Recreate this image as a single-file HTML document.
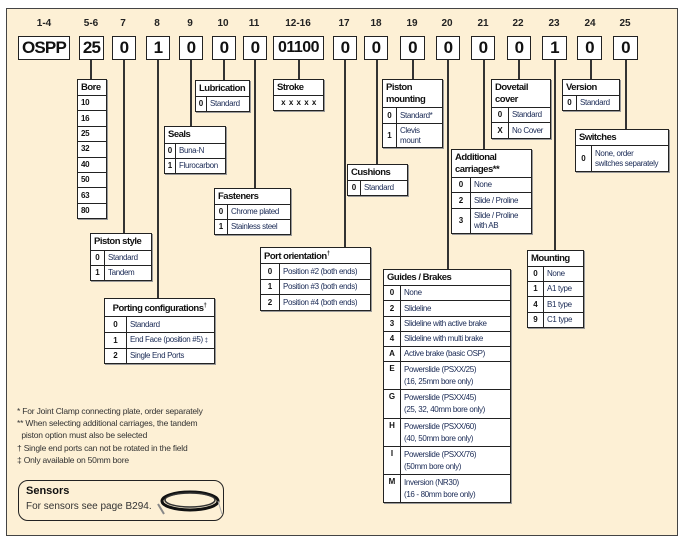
<!DOCTYPE html>
<html><head><meta charset="utf-8"><style>
*{margin:0;padding:0;box-sizing:border-box}
body{width:685px;height:552px;background:#fff;position:relative;overflow:hidden;font-family:"Liberation Sans",sans-serif}
#frame{position:absolute;left:6px;top:8px;width:672px;height:528px;background:#fdf0d5;border:1.5px solid #444}
.n{position:absolute;top:18px;font:bold 10px "Liberation Sans",sans-serif;color:#222;text-align:center;width:40px}
.b{position:absolute;top:36px;height:24px;border:1.5px solid #222;background:#fff;font:bold 17px "Liberation Sans",sans-serif;text-align:center;line-height:21px;color:#111;letter-spacing:-0.8px;white-space:nowrap}
.v{position:absolute;width:1.5px;background:#333}
table{position:absolute;border-collapse:collapse;background:#fff;box-shadow:1px 1px 0 #999;font-size:8px;color:#1a2a55;letter-spacing:-0.35px;table-layout:fixed}
td{border:1.5px solid #222;padding:0 2px 0 3px;vertical-align:middle;line-height:10px;white-space:nowrap;overflow:hidden}
td.k{text-align:center;font-weight:bold;color:#111;padding:0;letter-spacing:0}
th{border:1.5px solid #222;text-align:left;padding:0 3px;font-size:9.5px;color:#111;font-weight:bold;line-height:12px;letter-spacing:-0.5px;white-space:nowrap}
.ft{position:absolute;left:17px;font:8.5px "Liberation Sans",sans-serif;color:#333;letter-spacing:-0.2px}
</style></head><body>
<div id="frame"></div>

<div class="n" style="left:24px">1-4</div><div class="b" style="left:18px;width:52px">OSPP</div>
<div class="n" style="left:71px">5-6</div><div class="b" style="left:79px;width:25px">25</div>
<div class="n" style="left:103px">7</div><div class="b" style="left:112px;width:24px">0</div>
<div class="n" style="left:137px">8</div><div class="b" style="left:146px;width:24px">1</div>
<div class="n" style="left:170px">9</div><div class="b" style="left:179px;width:24px">0</div>
<div class="n" style="left:203px">10</div><div class="b" style="left:212px;width:24px">0</div>
<div class="n" style="left:234px">11</div><div class="b" style="left:243px;width:24px">0</div>
<div class="n" style="left:278px">12-16</div><div class="b" style="left:273px;width:51px;font-size:16px;letter-spacing:-0.5px">01100</div>
<div class="n" style="left:324px">17</div><div class="b" style="left:333px;width:24px">0</div>
<div class="n" style="left:356px">18</div><div class="b" style="left:364px;width:24px">0</div>
<div class="n" style="left:392px">19</div><div class="b" style="left:400px;width:25px">0</div>
<div class="n" style="left:427px">20</div><div class="b" style="left:436px;width:24px">0</div>
<div class="n" style="left:463px">21</div><div class="b" style="left:471px;width:24px">0</div>
<div class="n" style="left:498px">22</div><div class="b" style="left:507px;width:24px">0</div>
<div class="n" style="left:534px">23</div><div class="b" style="left:542px;width:25px">1</div>
<div class="n" style="left:570px">24</div><div class="b" style="left:577px;width:25px">0</div>
<div class="n" style="left:605px">25</div><div class="b" style="left:613px;width:25px">0</div>

<div class="v" style="left:90px;top:60px;height:19px"></div>
<div class="v" style="left:123px;top:60px;height:173px"></div>
<div class="v" style="left:157px;top:60px;height:238px"></div>
<div class="v" style="left:190px;top:60px;height:66px"></div>
<div class="v" style="left:223px;top:60px;height:20px"></div>
<div class="v" style="left:254px;top:60px;height:128px"></div>
<div class="v" style="left:298px;top:60px;height:19px"></div>
<div class="v" style="left:344px;top:60px;height:187px"></div>
<div class="v" style="left:376px;top:60px;height:104px"></div>
<div class="v" style="left:412px;top:60px;height:19px"></div>
<div class="v" style="left:447px;top:60px;height:209px"></div>
<div class="v" style="left:483px;top:60px;height:89px"></div>
<div class="v" style="left:518px;top:60px;height:19px"></div>
<div class="v" style="left:554px;top:60px;height:190px"></div>
<div class="v" style="left:590px;top:60px;height:19px"></div>
<div class="v" style="left:625px;top:60px;height:69px"></div>

<table style="left:77px;top:79px;width:30px"><tr><th style="height:16px">Bore</th></tr>
<tr><td style="height:15.4px;font-weight:bold;color:#111">10</td></tr><tr><td style="height:15.4px;font-weight:bold;color:#111">16</td></tr><tr><td style="height:15.4px;font-weight:bold;color:#111">25</td></tr><tr><td style="height:15.4px;font-weight:bold;color:#111">32</td></tr><tr><td style="height:15.4px;font-weight:bold;color:#111">40</td></tr><tr><td style="height:15.4px;font-weight:bold;color:#111">50</td></tr><tr><td style="height:15.4px;font-weight:bold;color:#111">63</td></tr><tr><td style="height:15.4px;font-weight:bold;color:#111">80</td></tr></table>

<table style="left:195px;top:80px;width:55px"><colgroup><col style="width:11px"><col></colgroup><tr><th colspan="2" style="height:16px">Lubrication</th></tr><tr><td class="k" style="height:15px">0</td><td>Standard</td></tr></table>

<table style="left:273px;top:79px;width:51px"><tr><th style="height:16px">Stroke</th></tr><tr><td style="height:15px;text-align:center;font-weight:bold;color:#111;letter-spacing:0.5px">x x x x x</td></tr></table>

<table style="left:164px;top:126px;width:62px"><colgroup><col style="width:11px"><col></colgroup><tr><th colspan="2" style="height:17px">Seals</th></tr><tr><td class="k" style="height:15px">0</td><td>Buna-N</td></tr><tr><td class="k" style="height:15px">1</td><td>Flurocarbon</td></tr></table>

<table style="left:214px;top:188px;width:77px"><colgroup><col style="width:13px"><col></colgroup><tr><th colspan="2" style="height:16px">Fasteners</th></tr><tr><td class="k" style="height:15px">0</td><td>Chrome plated</td></tr><tr><td class="k" style="height:15px">1</td><td>Stainless steel</td></tr></table>

<table style="left:90px;top:233px;width:62px"><colgroup><col style="width:14px"><col></colgroup><tr><th colspan="2" style="height:17px">Piston style</th></tr><tr><td class="k" style="height:15px">0</td><td>Standard</td></tr><tr><td class="k" style="height:15px">1</td><td>Tandem</td></tr></table>

<table style="left:104px;top:298px;width:111px"><colgroup><col style="width:22px"><col></colgroup><tr><th colspan="2" style="height:18px;text-align:center">Porting configurations<sup style="font-size:6px">†</sup></th></tr><tr><td class="k" style="height:16px">0</td><td>Standard</td></tr><tr><td class="k" style="height:16px">1</td><td>End Face (position #5) <span style="font-size:6px">‡</span></td></tr><tr><td class="k" style="height:15px">2</td><td>Single End Ports</td></tr></table>

<table style="left:260px;top:247px;width:111px"><colgroup><col style="width:19px"><col></colgroup><tr><th colspan="2" style="height:15px">Port orientation<sup style="font-size:6px">†</sup></th></tr><tr><td class="k" style="height:16px">0</td><td>Position #2 (both ends)</td></tr><tr><td class="k" style="height:15px">1</td><td>Position #3 (both ends)</td></tr><tr><td class="k" style="height:16px">2</td><td>Position #4 (both ends)</td></tr></table>

<table style="left:347px;top:164px;width:61px"><colgroup><col style="width:13px"><col></colgroup><tr><th colspan="2" style="height:16px">Cushions</th></tr><tr><td class="k" style="height:15px">0</td><td>Standard</td></tr></table>

<table style="left:382px;top:79px;width:61px"><colgroup><col style="width:14px"><col></colgroup><tr><th colspan="2" style="height:28px">Piston<br>mounting</th></tr><tr><td class="k" style="height:16px">0</td><td>Standard*</td></tr><tr><td class="k" style="height:24px">1</td><td style="line-height:10px">Clevis<br>mount</td></tr></table>

<table style="left:451px;top:149px;width:81px"><colgroup><col style="width:19px"><col></colgroup><tr><th colspan="2" style="height:28px">Additional<br>carriages**</th></tr><tr><td class="k" style="height:15px">0</td><td>None</td></tr><tr><td class="k" style="height:16px">2</td><td>Slide / Proline</td></tr><tr><td class="k" style="height:25px">3</td><td style="line-height:10px">Slide / Proline<br>with AB</td></tr></table>

<table style="left:491px;top:79px;width:60px"><colgroup><col style="width:17px"><col></colgroup><tr><th colspan="2" style="height:28px">Dovetail<br>cover</th></tr><tr><td class="k" style="height:15px">0</td><td>Standard</td></tr><tr><td class="k" style="height:16px">X</td><td>No Cover</td></tr></table>

<table style="left:562px;top:79px;width:58px"><colgroup><col style="width:14px"><col></colgroup><tr><th colspan="2" style="height:16px">Version</th></tr><tr><td class="k" style="height:15px">0</td><td>Standard</td></tr></table>

<table style="left:575px;top:129px;width:94px"><colgroup><col style="width:16px"><col></colgroup><tr><th colspan="2" style="height:16px">Switches</th></tr><tr><td class="k" style="height:26px">0</td><td style="line-height:10px">None, order<br>switches separately</td></tr></table>

<table style="left:383px;top:269px;width:128px"><colgroup><col style="width:17px"><col></colgroup><tr><th colspan="2" style="height:16px">Guides / Brakes</th></tr>
<tr><td class="k" style="height:15px">0</td><td>None</td></tr>
<tr><td class="k" style="height:16px">2</td><td>Slideline</td></tr>
<tr><td class="k" style="height:15px">3</td><td>Slideline with active brake</td></tr>
<tr><td class="k" style="height:15px">4</td><td>Slideline with multi brake</td></tr>
<tr><td class="k" style="height:15px">A</td><td>Active brake (basic OSP)</td></tr>
<tr><td class="k" style="height:28px;vertical-align:top;padding-top:2px">E</td><td style="line-height:12px">Powerslide (PSXX/25)<br>(16, 25mm bore only)</td></tr>
<tr><td class="k" style="height:29px;vertical-align:top;padding-top:2px">G</td><td style="line-height:12px">Powerslide (PSXX/45)<br>(25, 32, 40mm bore only)</td></tr>
<tr><td class="k" style="height:28px;vertical-align:top;padding-top:2px">H</td><td style="line-height:12px">Powerslide (PSXX/60)<br>(40, 50mm bore only)</td></tr>
<tr><td class="k" style="height:28px;vertical-align:top;padding-top:2px">I</td><td style="line-height:12px">Powerslide (PSXX/76)<br>(50mm bore only)</td></tr>
<tr><td class="k" style="height:28px;vertical-align:top;padding-top:2px">M</td><td style="line-height:12px">Inversion (NR30)<br>(16 - 80mm bore only)</td></tr></table>

<table style="left:527px;top:250px;width:57px"><colgroup><col style="width:16px"><col></colgroup><tr><th colspan="2" style="height:16px">Mounting</th></tr><tr><td class="k" style="height:15px">0</td><td>None</td></tr><tr><td class="k" style="height:15px">1</td><td>A1 type</td></tr><tr><td class="k" style="height:16px">4</td><td>B1 type</td></tr><tr><td class="k" style="height:15px">9</td><td>C1 type</td></tr></table>

<div class="ft" style="top:406px">* For Joint Clamp connecting plate, order separately</div>
<div class="ft" style="top:418px">** When selecting additional carriages, the tandem</div>
<div class="ft" style="top:430px">&nbsp;&nbsp;piston option must also be selected</div>
<div class="ft" style="top:443px">† Single end ports can not be rotated in the field</div>
<div class="ft" style="top:455px">‡ Only available on 50mm bore</div>

<div style="position:absolute;left:18px;top:480px;width:206px;height:41px;border:1.2px solid #222;border-radius:10px"></div>
<div style="position:absolute;left:26px;top:485px;font:bold 11px 'Liberation Sans',sans-serif;color:#111">Sensors</div>
<div style="position:absolute;left:26px;top:501px;font:10px 'Liberation Sans',sans-serif;color:#333">For sensors see page B294.</div>
<svg style="position:absolute;left:150px;top:484px" width="75" height="36"><ellipse cx="40" cy="17" rx="28" ry="9" fill="none" stroke="#111" stroke-width="3"/><ellipse cx="40" cy="16" rx="25" ry="7" fill="none" stroke="#333" stroke-width="1.5"/><path d="M8 20 L14 30" stroke="#888" stroke-width="2"/><path d="M68 17 L72 30" stroke="#aaa" stroke-width="1"/></svg>
</body></html>
